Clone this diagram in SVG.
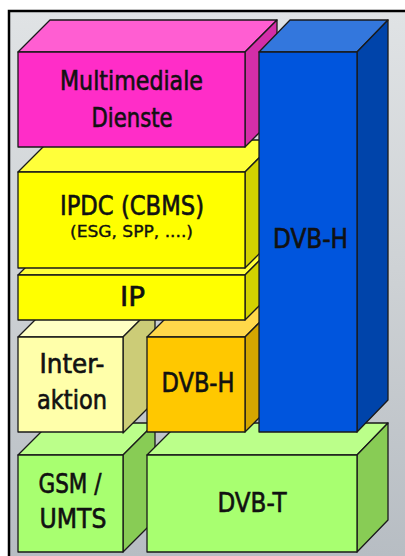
<svg xmlns="http://www.w3.org/2000/svg" width="405" height="556" viewBox="0 0 405 556">
<defs>
<linearGradient id="bg" x1="0" y1="0" x2="0" y2="1">
<stop offset="0" stop-color="#e0e3e5"/>
<stop offset="0.5" stop-color="#cdd1d4"/>
<stop offset="1" stop-color="#b7bdc3"/>
</linearGradient>
</defs>
<style>
.e{stroke:#1a1a1a;stroke-width:1.3;stroke-linejoin:round}
.t{font-family:"DejaVu Sans Condensed","DejaVu Sans",sans-serif;font-stretch:condensed;font-size:26.5px;fill:#111;stroke:#111;stroke-width:0.6;text-anchor:middle}
.s{font-size:16px;stroke-width:0.35}
.pf{fill:#ff2dc8}.pt{fill:#ff5ed2}.ps{fill:#d42ea8}
.bf{fill:#0055dd}.bt{fill:#3377dd}.bs{fill:#0044aa}
.yf{fill:#ffff00}.yt{fill:#ffff3a}.ys{fill:#d2d200}
.lf{fill:#ffffaa}.lt{fill:#ffffc4}.ls{fill:#cccc77}
.of{fill:#ffc800}.ot{fill:#ffd84a}.os{fill:#d4a600}
.gf{fill:#a8ff70}.gt{fill:#bbff8a}.gs{fill:#88cc55}
</style>
<rect x="0" y="0" width="405" height="556" fill="#ffffff"/>
<rect x="9" y="11" width="396" height="545" fill="url(#bg)"/>
<path d="M9 556 V11 H405" fill="none" stroke="#000" stroke-width="2.5"/>

<g id="gsm">
<polygon class="e gt" points="18,455 50,423 155,423 123,455"/>
<polygon class="e gs" points="123,455 155,423 155,520 123,552"/>
<rect class="e gf" x="18" y="455" width="105" height="97"/>
<text class="t" x="70" y="493" textLength="63" lengthAdjust="spacingAndGlyphs">GSM /</text>
<text class="t" x="73" y="528" textLength="67" lengthAdjust="spacingAndGlyphs">UMTS</text>
</g>
<g id="dvbt">
<polygon class="e gt" points="147,455 179,423 388,423 357,455"/>
<polygon class="e gs" points="357,455 388,423 388,520 357,552"/>
<rect class="e gf" x="147" y="455" width="210" height="97"/>
<text class="t" x="252" y="512" textLength="69" lengthAdjust="spacingAndGlyphs">DVB-T</text>
</g>
<g id="interaktion">
<polygon class="e lt" points="18,337 50,305 155,305 123,337"/>
<polygon class="e ls" points="123,337 155,305 155,401 123,433"/>
<rect class="e lf" x="18" y="337" width="105" height="95"/>
<text class="t" x="72" y="373" textLength="65" lengthAdjust="spacingAndGlyphs">Inter-</text>
<text class="t" x="72" y="409" textLength="70" lengthAdjust="spacingAndGlyphs">aktion</text>
</g>
<g id="dvbh-small">
<polygon class="e ot" points="147,337 179,305 277,305 245,337"/>
<polygon class="e os" points="245,337 277,305 277,400 245,432"/>
<rect class="e of" x="147" y="337" width="98" height="95"/>
<text class="t" x="198" y="392" textLength="73" lengthAdjust="spacingAndGlyphs">DVB-H</text>
</g>
<g id="ip">
<polygon class="e yt" points="18,275 50,243 277,243 245,275"/>
<polygon class="e ys" points="245,275 277,243 277,288 245,320"/>
<rect class="e yf" x="18" y="275" width="227" height="45"/>
<text class="t" x="132.5" y="306" textLength="25" lengthAdjust="spacingAndGlyphs">IP</text>
</g>
<g id="ipdc">
<polygon class="e yt" points="18,172 50,140 277,140 245,172"/>
<polygon class="e ys" points="245,172 277,140 277,236 245,268"/>
<rect class="e yf" x="18" y="172" width="227" height="96"/>
<text class="t" x="132" y="215" textLength="144" lengthAdjust="spacingAndGlyphs">IPDC (CBMS)</text>
<text class="t s" x="131.5" y="237" textLength="123" lengthAdjust="spacingAndGlyphs">(ESG, SPP, ....)</text>
</g>
<g id="multimedia">
<polygon class="e pt" points="18,52 50,20 277,20 245,52"/>
<polygon class="e ps" points="245,52 277,20 277,115 245,147"/>
<rect class="e pf" x="18" y="52" width="227" height="95"/>
<text class="t" x="131.5" y="90" textLength="143" lengthAdjust="spacingAndGlyphs">Multimediale</text>
<text class="t" x="132" y="127" textLength="81" lengthAdjust="spacingAndGlyphs">Dienste</text>
</g>
<g id="dvbh-tall">
<polygon class="e bt" points="259,52 290,20 388,20 357,52"/>
<polygon class="e bs" points="357,52 388,20 388,400 357,432"/>
<rect class="e bf" x="259" y="52" width="98" height="380"/>
<text class="t" x="310.5" y="248" textLength="75" lengthAdjust="spacingAndGlyphs">DVB-H</text>
</g>
<g id="connectors"/>
</svg>
